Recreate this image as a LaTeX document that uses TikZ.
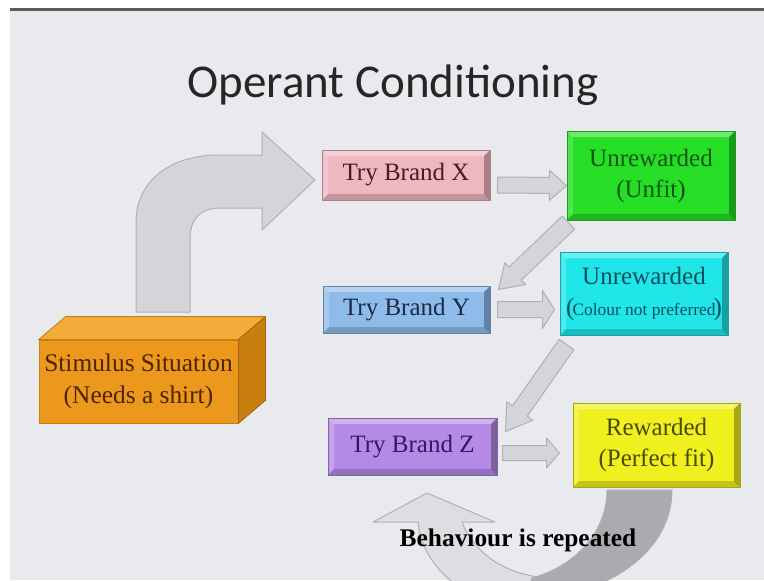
\documentclass[tikz,border=0pt]{standalone}
\usepackage{fontspec}
\setmainfont{Liberation Serif}
\newfontfamily\titlefont{Carlito}
\usetikzlibrary{calc}
\definecolor{slidebg}{HTML}{E8EAEE}
\definecolor{slideline}{HTML}{5A5C60}
\definecolor{arrowfill}{HTML}{D3D5D9}
\definecolor{arrowedge}{HTML}{AEB1B6}
\definecolor{loopback}{HTML}{DCDEE1}
\definecolor{loopdark}{HTML}{A9ABAF}
\definecolor{pinkbox}{HTML}{EFB8C1}
\definecolor{greenbox}{HTML}{26DE26}
\definecolor{bluebox}{HTML}{8FBBEA}
\definecolor{cyanbox}{HTML}{20E6EA}
\definecolor{purplebox}{HTML}{B48AE6}
\definecolor{yellowbox}{HTML}{F0F01E}
\definecolor{orangefront}{HTML}{EC981C}
\definecolor{orangetop}{HTML}{F3AB3A}
\definecolor{orangeside}{HTML}{C97F10}
\definecolor{pinktext}{HTML}{4A1A22}
\definecolor{greentext}{HTML}{0D560D}
\definecolor{bluetext}{HTML}{1C2A48}
\definecolor{cyantext}{HTML}{0B4F5C}
\definecolor{purpletext}{HTML}{3A1660}
\definecolor{yellowtext}{HTML}{4A4A08}
\definecolor{stimtext}{HTML}{4E2400}

\newcommand{\shaftarrow}[5]{%
  \coordinate (sa) at #1;
  \coordinate (sb) at #2;
  \coordinate (sm) at ($(sb)!#5!(sa)$);
  \filldraw[grayarrow] ($(sa)!#3!90:(sb)$) -- ($(sm)!#3!90:(sb)$) -- ($(sm)!#4!90:(sb)$) -- (sb)
    -- ($(sm)!#4!-90:(sb)$) -- ($(sm)!#3!-90:(sb)$) -- ($(sa)!#3!-90:(sb)$) -- cycle;
}

\begin{document}
\begin{tikzpicture}[x=0.5pt,y=-0.5pt,line join=round,
  grayarrow/.style={fill=arrowfill,draw=arrowedge,line width=0.5pt},
  boxfont/.style={font=\fontsize{12.5}{15.5}\selectfont},
  bevelbox/.style={fill=#1,draw=#1!70!black,line width=0.5pt,align=center,inner sep=0pt,boxfont,
    path picture={
      \coordinate (pa) at (path picture bounding box.north west);
      \coordinate (pb) at (path picture bounding box.south east);
      \fill[white,opacity=.35] (pa) -- (pa-|pb) -- ([shift={(-3pt,-3pt)}]pa-|pb) -- ([shift={(3pt,-3pt)}]pa) -- cycle;
      \fill[white,opacity=.2] (pa) -- ([shift={(3pt,-3pt)}]pa) -- ([shift={(3pt,3pt)}]pa|-pb) -- (pa|-pb) -- cycle;
      \fill[black,opacity=.18] (pa|-pb) -- ([shift={(3pt,3pt)}]pa|-pb) -- ([shift={(-3pt,3pt)}]pb) -- (pb) -- cycle;
      \fill[black,opacity=.3] (pa-|pb) -- ([shift={(-3pt,-3pt)}]pa-|pb) -- ([shift={(-3pt,3pt)}]pb) -- (pb) -- cycle;
    }}]
\useasboundingbox (0,0) rectangle (764,580);
\clip (0,0) rectangle (764,580);
\fill[white] (0,0) rectangle (764,580);
\fill[slidebg] (10,10) rectangle (764,580);
\fill[slideline] (10,8) rectangle (764,11);

\node[font=\titlefont\fontsize{23.5}{28}\selectfont,anchor=base,text=black!85] (title) at (393,97) {Operant Conditioning};

\filldraw[grayarrow] (136,312) -- (136,222) .. controls (136,180) and (172,155) .. (218,155) -- (262,155) -- (262,132)
  -- (315,180) -- (262,230) -- (262,208) -- (222,208) .. controls (200,208) and (190,218) .. (190,240) -- (190,312) -- cycle;

\node[fill=orangefront,draw=orangeside,line width=0.4pt,minimum width=99.5pt,minimum height=41.5pt,
  inner sep=0pt,align=center,text=stimtext,font=\fontsize{12.7}{16}\selectfont] (stim) at (138.5,381.5)
  {Stimulus Situation\\(Needs a shirt)};
\filldraw[fill=orangetop,draw=orangeside,line width=0.4pt] (stim.north west) -- ([shift={(13.5pt,11.5pt)}]stim.north west)
  -- ([shift={(13.5pt,11.5pt)}]stim.north east) -- (stim.north east) -- cycle;
\filldraw[fill=orangeside,draw=orangeside!80!black,line width=0.4pt] (stim.north east) -- ([shift={(13.5pt,11.5pt)}]stim.north east)
  -- ([shift={(13.5pt,11.5pt)}]stim.south east) -- (stim.south east) -- cycle;

\node[bevelbox=pinkbox,text=pinktext,minimum width=84pt,minimum height=25pt] (bx) at (406,175) {Try Brand X};
\node[bevelbox=greenbox,text=greentext,minimum width=84pt,minimum height=44.5pt] (unfit) at (651,175.5) {Unrewarded\\(Unfit)};
\node[bevelbox=bluebox,text=bluetext,minimum width=83.5pt,minimum height=23.5pt] (by) at (406.5,309.5) {Try Brand Y};
\node[bevelbox=cyanbox,text=cyantext,minimum width=84pt,minimum height=41.5pt] (colour) at (644,293.5)
  {Unrewarded\\(\kern-1pt{\fontsize{8.7}{10}\selectfont Colour not preferred}\kern-1pt)};
\node[bevelbox=purplebox,text=purpletext,minimum width=84.5pt,minimum height=28.5pt] (bz) at (412.5,446.5) {Try Brand Z};
\node[bevelbox=yellowbox,text=yellowtext,minimum width=83.5pt,minimum height=42pt] (reward) at (656.5,445) {Rewarded\\(Perfect fit)};

\shaftarrow{([shift={(3.5pt,-5pt)}]bx.east)}{([yshift=-5pt]unfit.west)}{4pt}{7.5pt}{8.5pt}
\shaftarrow{([shift={(1pt,-1pt)}]unfit.south west)}{([shift={(4pt,-2pt)}]by.north east)}{4.5pt}{7.5pt}{11.5pt}
\shaftarrow{([xshift=3.5pt]by.east)}{([shift={(-2.5pt,-8pt)}]colour.west)}{4pt}{9.5pt}{6pt}
\shaftarrow{([shift={(3.5pt,-4.5pt)}]colour.south west)}{([shift={(4pt,-7pt)}]bz.north east)}{4.5pt}{8pt}{12.5pt}
\shaftarrow{([shift={(2.5pt,-3.25pt)}]bz.east)}{([shift={(-6.5pt,-4pt)}]reward.west)}{3.75pt}{7.5pt}{6.5pt}

\filldraw[grayarrow,fill=loopback] (427,493) -- (495,522) -- (462,522) .. controls (475,555) and (505,572) .. (538,577)
  -- (538,600) -- (480,600) .. controls (440,580) and (420,550) .. (418,522) -- (373,522) -- cycle;
\filldraw[grayarrow,fill=loopdark] (607,490) -- (672,490) .. controls (672,540) and (630,585) .. (545,600) -- (525,600)
  -- (532,578) .. controls (578,565) and (607,530) .. (607,490) -- cycle;
\node[font=\bfseries\fontsize{12.7}{15}\selectfont] (loop) at (518,540) {Behaviour is repeated};
\end{tikzpicture}
\end{document}
